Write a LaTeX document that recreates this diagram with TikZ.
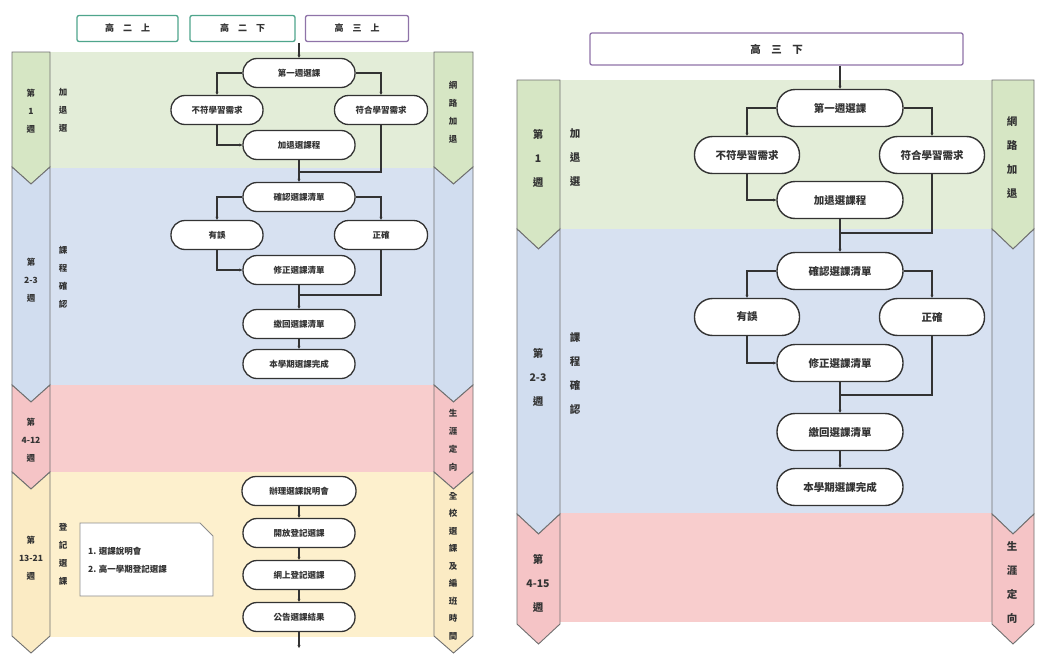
\documentclass[tikz,border=0pt]{standalone}
\usepackage{fontspec}
\setmainfont{Noto Sans CJK TC}
\usetikzlibrary{arrows.meta}
\definecolor{gband}{HTML}{E3EDD8}
\definecolor{gchev}{HTML}{D6E6C4}
\definecolor{bband}{HTML}{D7E1F1}
\definecolor{bchev}{HTML}{D1DDEF}
\definecolor{pband}{HTML}{F8CDCD}
\definecolor{pchev}{HTML}{F5C4C6}
\definecolor{yband}{HTML}{FDF0CD}
\definecolor{ychev}{HTML}{FBEBC4}
\definecolor{chevdraw}{HTML}{707070}
\definecolor{teal}{HTML}{4FA58C}
\definecolor{purp}{HTML}{8F73A8}
\definecolor{ink}{HTML}{333333}
\newcommand{\chevF}[6]{\draw[chevline,fill=#6] (#1,#3) -- (#2,#3) -- (#2,#4) -- ({(#1+#2)/2},#4+#5) -- (#1,#4) -- cycle;}
\newcommand{\chevN}[6]{\draw[chevline,fill=#6] (#1,#3) -- ({(#1+#2)/2},#3+#5) -- (#2,#3) -- (#2,#4) -- ({(#1+#2)/2},#4+#5) -- (#1,#4) -- cycle;}
\tikzset{
  chevline/.style={draw=chevdraw,line width=0.9pt},
  flowS/.style={draw=ink,line width=1.3pt,fill=white,rounded corners=14pt,minimum width=112pt,minimum height=29pt,inner sep=0pt,font=\fontsize{8.5}{9}\selectfont\bfseries,text=ink},
  flowL/.style={draw=ink,line width=1.4pt,fill=white,rounded corners=18pt,minimum width=126pt,minimum height=37pt,inner sep=0pt,font=\fontsize{10.5}{11}\selectfont\bfseries,text=ink},
  hdr/.style={line width=1.3pt,fill=white,rounded corners=2pt,minimum height=26pt,inner sep=0pt,font=\fontsize{9}{10}\selectfont\bfseries,text=ink},
  vlabS/.style={align=center,inner sep=0pt,font=\fontsize{8.5}{18}\selectfont\bfseries,text=ink},
  vlabL/.style={align=center,inner sep=0pt,font=\fontsize{10.5}{24}\selectfont\bfseries,text=ink},
  conn/.style={draw=ink,line width=1.1pt,-{Stealth[length=3pt,width=3pt]}},
  link/.style={draw=ink,line width=1.1pt},
}
\begin{document}
\begin{tikzpicture}[x=1pt,y=-1pt]
\useasboundingbox[fill=white] (0,0) rectangle (1038,653);
% ---------- LEFT PANEL bands ----------
\fill[gband] (50,52) rectangle (435,168);
\fill[bband] (50,168) rectangle (435,385);
\fill[pband] (50,385) rectangle (435,472);
\fill[yband] (50,472) rectangle (435,637);
% chevrons left
\chevF{12}{50}{52}{167}{17}{gchev}
\chevN{12}{50}{167}{385}{17}{bchev}
\chevN{12}{50}{385}{472}{17}{pchev}
\chevN{12}{50}{472}{636}{17}{ychev}
\chevF{434}{473}{52}{167}{17}{gchev}
\chevN{434}{473}{167}{385}{17}{bchev}
\chevN{434}{473}{385}{472}{17}{pchev}
\chevN{434}{473}{472}{636}{17}{ychev}
% ---------- RIGHT PANEL bands ----------
\fill[gband] (560,80) rectangle (992,229);
\fill[bband] (560,229) rectangle (992,513);
\fill[pband] (560,513) rectangle (992,622);
\chevF{517}{560}{80}{229}{20}{gchev}
\chevN{517}{560}{229}{514}{20}{bchev}
\chevN{517}{560}{514}{624}{20}{pchev}
\chevF{992}{1034}{80}{229}{20}{gchev}
\chevN{992}{1034}{229}{514}{20}{bchev}
\chevN{992}{1034}{514}{624}{20}{pchev}
% ---------- labels left panel ----------
\node[vlabS] (lw1) at (31,111) {第\\1\\週};
\node[vlabS] (lp1) at (63,110) {加\\退\\選};
\node[vlabS] (lr1) at (453,112) {網\\路\\加\\退};
\node[vlabS] (lw2) at (31,280) {第\\2-3\\週};
\node[vlabS] (lp2) at (63,277) {課\\程\\確\\認};
\node[vlabS] (lw3) at (31,440) {第\\4-12\\週};
\node[vlabS] (lr3) at (453,440) {生\\涯\\定\\向};
\node[vlabS] (lw4) at (31,558) {第\\13-21\\週};
\node[vlabS] (lp4) at (63,554) {登\\記\\選\\課};
\node[vlabS,font=\fontsize{8.5}{17.5}\selectfont\bfseries] (lr4) at (453,566) {全\\校\\選\\課\\及\\編\\班\\時\\間};
% labels right panel
\node[vlabL] (rw1) at (538,158) {第\\1\\週};
\node[vlabL] (rp1) at (575,158) {加\\退\\選};
\node[vlabL] (rr1) at (1012,158) {網\\路\\加\\退};
\node[vlabL] (rw2) at (538,377) {第\\2-3\\週};
\node[vlabL] (rp2) at (575,373) {課\\程\\確\\認};
\node[vlabL] (rw3) at (538,583) {第\\4-15\\週};
\node[vlabL] (rr3) at (1012,583) {生\\涯\\定\\向};
% ---------- headers ----------
\node[hdr,draw=teal,minimum width=101pt] (H1) at (127.5,28.5) {高\quad 二\quad 上};
\node[hdr,draw=teal,minimum width=105pt] (H2) at (242.5,28.5) {高\quad 二\quad 下};
\node[hdr,draw=purp,minimum width=103pt] (H3) at (357,28.5) {高\quad 三\quad 上};
\node[hdr,draw=purp,minimum width=373pt,minimum height=32pt,font=\fontsize{10.5}{11}\selectfont\bfseries] (R0) at (776.5,49) {高\quad 三\quad 下};
% ---------- note box ----------
\draw[draw=chevdraw!80,line width=0.8pt,fill=white] (80,523) -- (200,523) -- (213,536) -- (213,596) -- (80,596) -- cycle;
\node[anchor=west,align=left,inner sep=0pt,font=\fontsize{8.5}{18}\selectfont\bfseries,text=ink] (note) at (88,560) {1. 選課說明會\\2. 高一學期登記選課};
% ---------- left flow nodes ----------
\node[flowS] (L1) at (299,73) {第一週選課};
\node[flowS,minimum width=92pt] (L2) at (217,110) {不符學習需求};
\node[flowS,minimum width=93pt] (L3) at (381,110) {符合學習需求};
\node[flowS] (L4) at (299,145) {加退選課程};
\node[flowS] (L5) at (299,197) {確認選課清單};
\node[flowS,minimum width=92pt] (L6) at (217,235) {有誤};
\node[flowS,minimum width=93pt] (L7) at (381,235) {正確};
\node[flowS] (L8) at (299,270) {修正選課清單};
\node[flowS] (L9) at (299,324) {繳回選課清單};
\node[flowS] (L10) at (299,364) {本學期選課完成};
\node[flowS,minimum width=114pt] (L11) at (299,491) {辦理選課說明會};
\node[flowS] (L12) at (299,533) {開放登記選課};
\node[flowS] (L13) at (299,575) {網上登記選課};
\node[flowS] (L14) at (299,617) {公告選課結果};
\coordinate (T0) at (299,43);
\coordinate (J1) at (299,172);
\coordinate (J2) at (299,295);
\coordinate (B0) at (299,648);
% left connectors
\draw[conn] (T0) -- (L1.north);
\draw[conn] (L1.west) -| (L2.north);
\draw[conn] (L1.east) -| (L3.north);
\draw[conn] (L2.south) |- (L4.west);
\draw[link] (L3.south) |- (J1);
\draw[conn] (L4.south) -- (L5.north);
\draw[conn] (L5.west) -| (L6.north);
\draw[conn] (L5.east) -| (L7.north);
\draw[conn] (L6.south) |- (L8.west);
\draw[link] (L7.south) |- (J2);
\draw[conn] (L8.south) -- (L9.north);
\draw[conn] (L9.south) -- (L10.north);
\draw[conn] (L11.south) -- (L12.north);
\draw[conn] (L12.south) -- (L13.north);
\draw[conn] (L13.south) -- (L14.north);
\draw[conn] (L14.south) -- (B0);
% ---------- right flow nodes ----------
\node[flowL] (R1) at (840,108) {第一週選課};
\node[flowL,minimum width=105pt] (R2) at (747,155) {不符學習需求};
\node[flowL,minimum width=105pt] (R3) at (932,155) {符合學習需求};
\node[flowL] (R4) at (840,200) {加退選課程};
\node[flowL] (R5) at (840,271) {確認選課清單};
\node[flowL,minimum width=105pt] (R6) at (747,317) {有誤};
\node[flowL,minimum width=105pt] (R7) at (932,317) {正確};
\node[flowL] (R8) at (840,363) {修正選課清單};
\node[flowL] (R9) at (840,432) {繳回選課清單};
\node[flowL] (R10) at (840,487) {本學期選課完成};
\coordinate (K1) at (840,233);
\coordinate (K2) at (840,395);
\draw[conn] (R0.south -| R1.north) -- (R1.north);
\draw[conn] (R1.west) -| (R2.north);
\draw[conn] (R1.east) -| (R3.north);
\draw[conn] (R2.south) |- (R4.west);
\draw[link] (R3.south) |- (K1);
\draw[conn] (R4.south) -- (R5.north);
\draw[conn] (R5.west) -| (R6.north);
\draw[conn] (R5.east) -| (R7.north);
\draw[conn] (R6.south) |- (R8.west);
\draw[link] (R7.south) |- (K2);
\draw[conn] (R8.south) -- (R9.north);
\draw[conn] (R9.south) -- (R10.north);
\end{tikzpicture}
\end{document}
